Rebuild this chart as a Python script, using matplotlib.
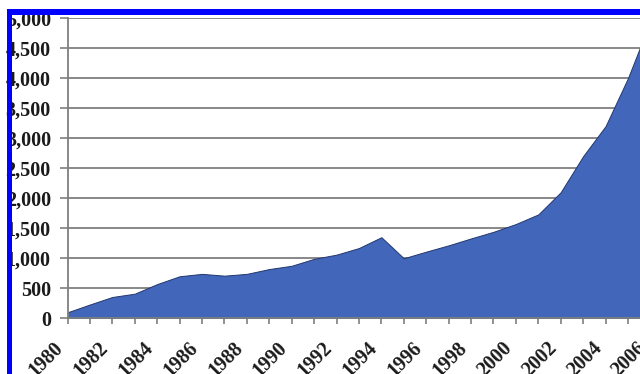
import matplotlib
matplotlib.use('Agg')
import matplotlib.pyplot as plt
from matplotlib.patches import Rectangle

W, H = 640, 374
DPI = 100

years = list(range(1980, 2007))
values = [100, 230, 355, 410, 570, 700, 740, 710, 740, 820, 875, 990, 1060,
          1170, 1350, 1000, 1110, 1215, 1330, 1440, 1570, 1730, 2100, 2700,
          3200, 4000, 4950]
y_ticks = list(range(0, 5001, 500))
x_labels = [str(y) if y % 2 == 0 else '' for y in years]

plt.rcParams['font.family'] = ['Liberation Serif', 'DejaVu Serif']
plt.rcParams['font.weight'] = 'bold'

fig = plt.figure(figsize=(W / DPI, H / DPI), dpi=DPI)
fig.patch.set_facecolor('white')

# plot box in pixels: left edge at x=67.5, right edge runs past the canvas
left, right = 67.5, 650.4
top, bottom = 18.0, 318.3
ax = fig.add_axes([left / W, 1 - bottom / H, (right - left) / W, (bottom - top) / H])

ax.fill_between(years, values, 0, facecolor='#4166BA', edgecolor='#23376e',
                linewidth=0.7, zorder=3)

ax.set_xlim(years[0], years[-1])
ax.set_ylim(0, 5000)
ax.set_yticks(y_ticks)
ax.set_yticklabels([f'{v:,}' for v in y_ticks])
ax.set_xticks(years)
ax.set_xticklabels(x_labels, rotation=45, ha='right', va='top')

ax.yaxis.grid(True, color='#7f7f7f', linewidth=1.3, zorder=1)
ax.set_axisbelow(True)

for side in ['top', 'right']:
    ax.spines[side].set_visible(False)
for side in ['left', 'bottom']:
    ax.spines[side].set_color('#7f7f7f')
    ax.spines[side].set_linewidth(1.3)
    ax.spines[side].set_zorder(4)

ax.tick_params(axis='y', length=6, width=1.2, color='#7f7f7f', pad=6,
               labelsize=14.5, labelcolor='#1a1a1a')
ax.tick_params(axis='x', length=4, width=1.2, color='#7f7f7f', pad=10,
               labelsize=14.5, labelcolor='#1a1a1a')

# blue frame along the left and top edges
blue = '#0000ff'
fig.patches.append(Rectangle((7.3 / W, 0), 4.7 / W, 1 - 9 / H,
                             transform=fig.transFigure, facecolor=blue,
                             edgecolor='none', zorder=10))
fig.patches.append(Rectangle((7.3 / W, 1 - 14.7 / H), 1, 5.7 / H,
                             transform=fig.transFigure, facecolor=blue,
                             edgecolor='none', zorder=10))

fig.savefig('out.png', dpi=DPI, facecolor='white')
